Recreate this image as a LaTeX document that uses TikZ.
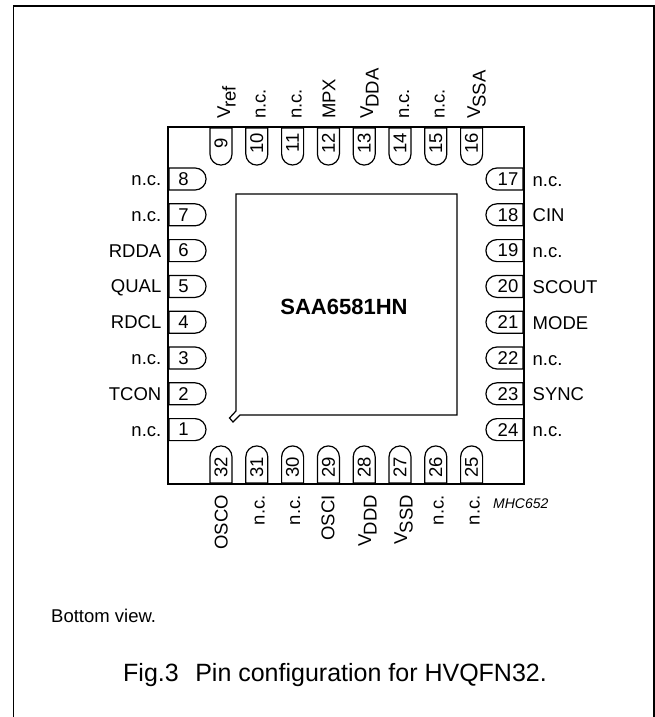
\documentclass[tikz,border=0pt]{standalone}
\usepackage{fontspec}
\setmainfont{Liberation Sans}
\usetikzlibrary{shapes.misc}
\tikzset{
    pinnum/.style={draw,line width=1.2pt,rounded rectangle,minimum width=37pt,minimum height=22pt,inner sep=0pt,font=\fontsize{18.5}{20}\selectfont},
    pinleft/.style={pinnum,rounded rectangle west arc=none,execute at end node=\hspace{6pt}},
    pinright/.style={pinnum,rounded rectangle east arc=none,execute at begin node=\hspace{5pt}},
    pintop/.style={pinnum,rotate=90,rounded rectangle east arc=none,execute at begin node=\hspace{5pt}},
    pinbottom/.style={pinnum,rotate=90,rounded rectangle west arc=none,execute at end node=\hspace{4pt}},
    sidelabel/.style={inner sep=0pt,font=\fontsize{18.5}{20}\selectfont},
    leftlabel/.style={sidelabel,anchor=base east},
    rightlabel/.style={sidelabel,anchor=base west},
    toplabel/.style={sidelabel,rotate=90,anchor=base west},
    bottomlabel/.style={sidelabel,rotate=90,anchor=base east},
}
\newcommand{\vsub}[2]{#1\kern-1pt\raisebox{-5.5pt}{#2}}
\begin{document}
\begin{tikzpicture}[x=1pt,y=-1pt]
    \useasboundingbox (0,0) rectangle (655,717);
    %frame
    \coordinate (FA) at (13.5,717);
    \coordinate (FB) at (13.5,6);
    \coordinate (FC) at (654,6);
    \coordinate (FD) at (654,717);
    \draw [line width=1.6pt] (FA) -- (FB) -- (FC) -- (FD);
    %package
    \coordinate (A) at (168,127);
    \coordinate (B) at (524,127);
    \coordinate (C) at (524,484);
    \coordinate (D) at (168,484);
    \draw [line width=1.2pt] (A) -- (B) -- (C) -- (D) -- cycle;
    %die with corner mark
    \coordinate (E) at (236,194);
    \coordinate (F) at (457,194);
    \coordinate (G) at (457,415);
    \coordinate (H) at (240,415);
    \coordinate (I) at (233,422);
    \coordinate (J) at (229.5,418);
    \coordinate (K) at (236,411);
    \draw [line width=1.2pt] (E) -- (F) -- (G) -- (H) -- (I) -- (J) -- (K) -- cycle;
    \node [inner sep=0pt,font=\fontsize{22}{24}\selectfont\bfseries,anchor=base] (chip) at (344,314) {SAA6581HN};
    %left side
    \node [pinleft] (p8) at (186.5,179) {8};
    \node [pinleft] (p7) at (186.5,214.8) {7};
    \node [pinleft] (p6) at (186.5,250.6) {6};
    \node [pinleft] (p5) at (186.5,286.4) {5};
    \node [pinleft] (p4) at (186.5,322.2) {4};
    \node [pinleft] (p3) at (186.5,358) {3};
    \node [pinleft] (p2) at (186.5,393.8) {2};
    \node [pinleft] (p1) at (186.5,429.6) {1};
    \node [leftlabel] (l8) at (161.5,185.5) {n.c.};
    \node [leftlabel] (l7) at (161.5,221.3) {n.c.};
    \node [leftlabel] (l6) at (161.5,257.1) {RDDA};
    \node [leftlabel] (l5) at (161.5,292.9) {QUAL};
    \node [leftlabel] (l4) at (161.5,328.7) {RDCL};
    \node [leftlabel] (l3) at (161.5,364.5) {n.c.};
    \node [leftlabel] (l2) at (161.5,400.3) {TCON};
    \node [leftlabel] (l1) at (161.5,436.1) {n.c.};
    %right side
    \node [pinright] (p17) at (505.5,179) {17};
    \node [pinright] (p18) at (505.5,214.8) {18};
    \node [pinright] (p19) at (505.5,250.6) {19};
    \node [pinright] (p20) at (505.5,286.4) {20};
    \node [pinright] (p21) at (505.5,322.2) {21};
    \node [pinright] (p22) at (505.5,358) {22};
    \node [pinright] (p23) at (505.5,393.8) {23};
    \node [pinright] (p24) at (505.5,429.6) {24};
    \node [rightlabel] (l17) at (532.5,186) {n.c.};
    \node [rightlabel] (l18) at (532.5,221.8) {CIN};
    \node [rightlabel] (l19) at (532.5,257.6) {n.c.};
    \node [rightlabel] (l20) at (532.5,293.4) {SCOUT};
    \node [rightlabel] (l21) at (532.5,329.2) {MODE};
    \node [rightlabel] (l22) at (532.5,365) {n.c.};
    \node [rightlabel] (l23) at (532.5,400.8) {SYNC};
    \node [rightlabel] (l24) at (532.5,436.6) {n.c.};
    %top side
    \node [pintop] (p9) at (221,145.5) {9};
    \node [pintop] (p10) at (256.8,145.5) {10};
    \node [pintop] (p11) at (292.6,145.5) {11};
    \node [pintop] (p12) at (328.4,145.5) {12};
    \node [pintop] (p13) at (364.2,145.5) {13};
    \node [pintop] (p14) at (400,145.5) {14};
    \node [pintop] (p15) at (435.8,145.5) {15};
    \node [pintop] (p16) at (471.6,145.5) {16};
    \node [toplabel] (l9) at (230,119) {\vsub{V}{ref}};
    \node [toplabel] (l10) at (265.5,119) {n.c.};
    \node [toplabel] (l11) at (301.5,119) {n.c.};
    \node [toplabel] (l12) at (335.4,119) {MPX};
    \node [toplabel] (l13) at (373,119) {\vsub{V}{DDA}};
    \node [toplabel] (l14) at (409,119) {n.c.};
    \node [toplabel] (l15) at (444.5,119) {n.c.};
    \node [toplabel] (l16) at (480,119) {\vsub{V}{SSA}};
    %bottom side
    \node [pinbottom] (p32) at (221,465.5) {32};
    \node [pinbottom] (p31) at (256.8,465.5) {31};
    \node [pinbottom] (p30) at (292.6,465.5) {30};
    \node [pinbottom] (p29) at (328.4,465.5) {29};
    \node [pinbottom] (p28) at (364.2,465.5) {28};
    \node [pinbottom] (p27) at (400,465.5) {27};
    \node [pinbottom] (p26) at (435.8,465.5) {26};
    \node [pinbottom] (p25) at (471.6,465.5) {25};
    \node [bottomlabel] (l32) at (227.5,495) {OSCO};
    \node [bottomlabel] (l31) at (264.5,495) {n.c.};
    \node [bottomlabel] (l30) at (300,495) {n.c.};
    \node [bottomlabel] (l29) at (334.4,495) {OSCI};
    \node [bottomlabel] (l28) at (371,495) {\vsub{V}{DDD}};
    \node [bottomlabel] (l27) at (407,495) {\vsub{V}{SSD}};
    \node [bottomlabel] (l26) at (443.5,495) {n.c.};
    \node [bottomlabel] (l25) at (479.5,495) {n.c.};
    %texts
    \node [inner sep=0pt,anchor=base west,font=\fontsize{14}{16}\selectfont\itshape] (code) at (493,508) {MHC652};
    \node [inner sep=0pt,anchor=base west,font=\fontsize{18.5}{20}\selectfont] (note) at (51,622) {Bottom view.};
    \node [inner sep=0pt,anchor=base west,font=\fontsize{25}{27}\selectfont] (caption) at (123,681) {Fig.3\hspace{0.66em}Pin configuration for HVQFN32.};
\end{tikzpicture}
\end{document}
